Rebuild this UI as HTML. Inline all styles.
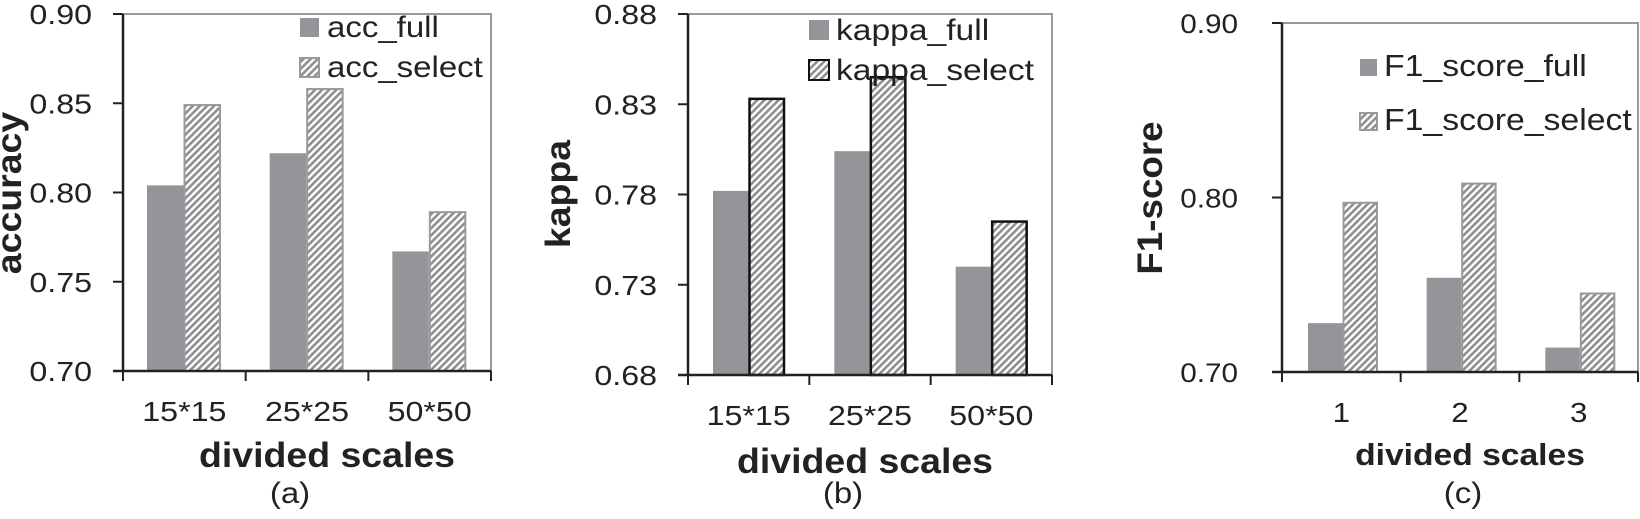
<!DOCTYPE html>
<html><head><meta charset="utf-8"><style>
html,body{margin:0;padding:0;background:#fff;}
svg{display:block;font-family:"Liberation Sans",Arial,sans-serif;}
</style></head><body>
<svg id="chart" width="1640" height="519" viewBox="0 0 1640 519" xmlns="http://www.w3.org/2000/svg">
<defs>
<pattern id="hatch" patternUnits="userSpaceOnUse" width="5" height="5" patternTransform="rotate(45)">
<rect width="5" height="5" fill="#fff"/><rect width="2.6" height="5" fill="#8e8f92"/>
</pattern>
</defs>
</svg>
<script>
const catsA=["15*15","25*25","50*50"];
const accFull=[0.804,0.822,0.767];
const accSelect=[0.849,0.858,0.789];
const ticksA=[0.70,0.75,0.80,0.85,0.90];
const catsB=["15*15","25*25","50*50"];
const kappaFull=[0.782,0.804,0.740];
const kappaSelect=[0.833,0.845,0.765];
const ticksB=[0.68,0.73,0.78,0.83,0.88];
const catsC=["1","2","3"];
const f1Full=[0.728,0.754,0.714];
const f1Select=[0.797,0.808,0.745];
const ticksC=[0.70,0.80,0.90];

const NS="http://www.w3.org/2000/svg";
const svg=document.getElementById('chart');
function mk(tag,attrs,parent,text){const e=document.createElementNS(NS,tag);for(const k in attrs)e.setAttribute(k,attrs[k]);if(text!==undefined)e.textContent=text;(parent||svg).appendChild(e);return e;}
function txt(parent,x,y,str,size,sx,anchor,bold,rot){
  const tr=`translate(${x},${y})`+(rot?' rotate(-90)':'')+` scale(${sx},1)`;
  return mk('text',{x:0,y:0,'font-size':size,'font-weight':bold?'bold':'normal','text-anchor':anchor,fill:'#222',transform:tr},parent,str);
}

const panels=[
 {id:'a',x0:123,x1:491,y0:14,y1:371,min:0.70,max:0.90,cats:catsA,full:accFull,sel:accSelect,ticks:ticksA,
  tickRight:92,tickFont:28,tickSx:1.15,xlabBase:421,xlabFont:28,xlabSx:1.15,xtitleX:327,xtitleBase:467,xtitleFont:35,xtitleSx:1.07,
  capX:290,capBase:503,capFont:30,capSx:1.1,
  ylabel:'accuracy',ylabX:21,ylabY:193,ylabFont:35,ylabSx:1.07,gap:24,bw:36.5,selStroke:'#9a9a9a',
  legX:300,legY:[18,58],legSz:19,legFont:30,legSx:1.1,legText:['acc_full','acc_select'],legGap:8},
 {id:'b',x0:688,x1:1052,y0:14,y1:375,min:0.68,max:0.88,cats:catsB,full:kappaFull,sel:kappaSelect,ticks:ticksB,
  tickRight:657,tickFont:28,tickSx:1.15,xlabBase:425,xlabFont:28,xlabSx:1.15,xtitleX:865,xtitleBase:473,xtitleFont:35,xtitleSx:1.07,
  capX:843,capBase:503,capFont:30,capSx:1.1,
  ylabel:'kappa',ylabX:570,ylabY:194,ylabFont:35,ylabSx:1.07,gap:25,bw:35.5,selStroke:'#111',
  legX:809,legY:[20,60],legSz:20,legFont:30,legSx:1.12,legText:['kappa_full','kappa_select'],legGap:7},
 {id:'c',x0:1282,x1:1638,y0:23,y1:372,min:0.70,max:0.90,cats:catsC,full:f1Full,sel:f1Select,ticks:ticksC,
  tickRight:1238,tickFont:27,tickSx:1.1,xlabBase:422,xlabFont:28,xlabSx:1.12,xtitleX:1470,xtitleBase:465,xtitleFont:31,xtitleSx:1.085,
  capX:1463,capBase:503,capFont:30,capSx:1.1,
  ylabel:'F1-score',ylabX:1162,ylabY:198,ylabFont:35,ylabSx:1.05,gap:26,bw:34.5,selStroke:'#9a9a9a',
  legX:1360,legY:[59,113],legSz:17,legFont:31,legSx:1.09,legText:['F1_score_full','F1_score_select'],legGap:7}
];

panels.forEach(p=>{
  const g=mk('g',{});
  
  
  const yS=v=>p.y1-(v-p.min)/(p.max-p.min)*(p.y1-p.y0);
  const n=p.cats.length, gw=(p.x1-p.x0)/n;
  const fr=mk('rect',{x:p.x0,y:p.y0,width:p.x1-p.x0,height:p.y1-p.y0,fill:'none',stroke:'#9a9a9a','stroke-width':2},g);
  
  
  p.cats.forEach((c,i)=>{
    const bx=p.x0+i*gw+p.gap;
    const yf=yS(p.full[i]);
    const b1=mk('rect',{x:bx,y:yf,width:p.bw,height:p.y1-yf,fill:'#939598'},g);
    
    
    const ys=yS(p.sel[i]);
    const b2=mk('rect',{x:bx+p.bw+1,y:ys,width:p.bw-1,height:p.y1-ys,fill:'url(#hatch)',stroke:p.selStroke,'stroke-width':p.id==='b'?2.5:2},g);
    
    
    const lb=txt(g,p.x0+(i+0.5)*gw,p.xlabBase,c,p.xlabFont,p.xlabSx,'middle',false);
    
    
  });
  const ya=mk('line',{x1:p.x0,y1:p.y0,x2:p.x0,y2:p.y1,stroke:'#222','stroke-width':2.5},g);
  
  
  const xa=mk('line',{x1:p.x0-10,y1:p.y1,x2:p.x1,y2:p.y1,stroke:'#222','stroke-width':2.5},g);
  
  
  for(let i=0;i<=n;i++){
    const tx=p.x0+i*gw;
    mk('line',{x1:tx,y1:p.y1,x2:tx,y2:p.y1+10,stroke:'#222','stroke-width':2},g);
  }
  p.ticks.forEach(t=>{
    const y=yS(t);
    mk('line',{x1:p.x0-10,y1:y,x2:p.x0,y2:y,stroke:'#222','stroke-width':2},g);
    const tl=txt(g,p.tickRight,y+10,t.toFixed(2),p.tickFont,p.tickSx,'end',false);
    
    
  });
  const yl=txt(g,p.ylabX,p.ylabY,p.ylabel,p.ylabFont,p.ylabSx,'middle',true,true);
  
  
  const xt=txt(g,p.xtitleX,p.xtitleBase,'divided scales',p.xtitleFont,p.xtitleSx,'middle',true);
  
  
  const cp=txt(g,p.capX,p.capBase,'('+p.id+')',p.capFont,p.capSx,'middle',false);
  
  
  [0,1].forEach(k=>{
    const ly=p.legY[k];
    const sq=mk('rect',{x:p.legX,y:ly,width:p.legSz,height:p.legSz,fill:k?'url(#hatch)':'#939598',stroke:k?p.selStroke:'none','stroke-width':2},g);
    
    
    const lt=txt(g,p.legX+p.legSz+p.legGap,ly+p.legSz,p.legText[k],p.legFont,p.legSx,'start',false);
    
    
  });
});
</script>
</body></html>
